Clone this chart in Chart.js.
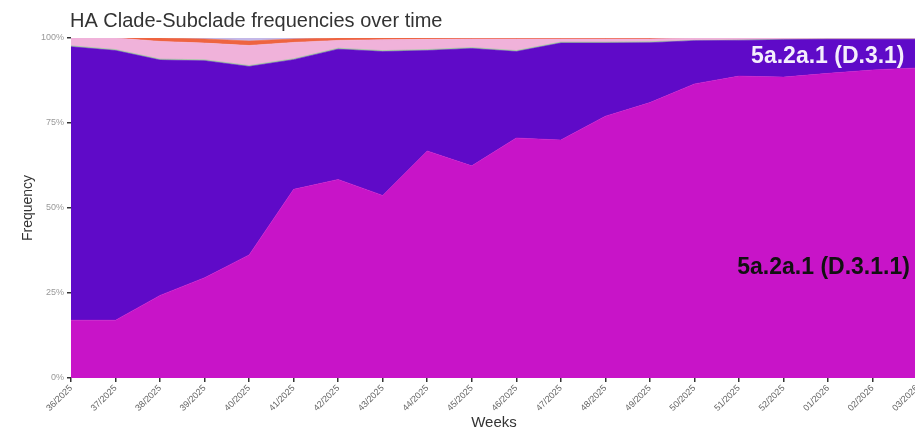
<!DOCTYPE html>
<html>
<head>
<meta charset="utf-8">
<script src="https://cdn.jsdelivr.net/npm/chart.js@4.4.1/dist/chart.umd.min.js"></script>
<style>
  html, body { margin: 0; padding: 0; background: #fff; overflow: hidden; }
  #wrap { position: absolute; left: 0; top: 0; width: 935px; height: 429px; }
</style>
</head>
<body>
<div id="wrap"><canvas id="myChart"></canvas></div>
<script>
// weeks on the x axis
const weeks = ['36/2025','37/2025','38/2025','39/2025','40/2025','41/2025','42/2025','43/2025','44/2025',
  '45/2025','46/2025','47/2025','48/2025','49/2025','50/2025','51/2025','52/2025','01/2026','02/2026','03/2026']

// frequency (%) per clade, stacked bottom -> top
const d311   = [17.0, 17.0, 24.3, 29.5, 36.2, 55.5, 58.4, 53.7, 66.8, 62.4, 70.6, 70.0, 77.0, 81.0, 86.5, 88.8, 88.5, 89.6, 90.6, 91.2]
const d31    = [80.4, 79.3, 69.2, 63.8, 55.4, 38.1, 38.3, 42.3, 29.5, 34.5, 25.4, 28.5, 21.5, 17.6, 12.7, 10.5, 11.0, 10.0,  9.0,  8.4]
const other1 = [ 0.3,  0.3,  0.3,  0.3,  0.3,  0.3,  0.3,  0.3,  0.3,  0.3,  0.3,  0.3,  0.3,  0.3,  0.1,  0.1,  0.1,  0.1,  0.1,  0.1]
const other2 = [ 2.3,  3.4,  5.2,  4.9,  5.9,  4.8,  2.3,  3.2,  3.0,  2.5,  3.4,  0.9,  0.9,  0.8,  0.7,  0.6,  0.4,  0.3,  0.3,  0.3]
const other3 = [ 0.0,  0.0,  1.0,  1.2,  1.3,  1.0,  0.7,  0.5,  0.4,  0.3,  0.3,  0.3,  0.3,  0.3,  0.0,  0.0,  0.0,  0.0,  0.0,  0.0]
const other4 = [ 0.0,  0.0,  0.0,  0.3,  0.9,  0.3,  0.0,  0.0,  0.0,  0.0,  0.0,  0.0,  0.0,  0.0,  0.0,  0.0,  0.0,  0.0,  0.0,  0.0]

const yTicks = [0, 25, 50, 75, 100]

function area(label, data, color, fill){
  return {
    label: label,
    data: data,
    backgroundColor: color,
    borderColor: color,
    borderWidth: 0.6,
    pointRadius: 0,
    tension: 0,
    fill: fill
  }
}

// title + in-chart labels
const textPlugin = {
  id: 'texts',
  afterDatasetsDraw(chart){
    const ctx = chart.ctx
    const x = chart.scales.x, y = chart.scales.y
    ctx.save()
    ctx.fillStyle = '#333'
    ctx.font = '20px "Liberation Sans", Arial, sans-serif'
    ctx.textAlign = 'left'
    ctx.textBaseline = 'alphabetic'
    ctx.fillText('HA Clade-Subclade frequencies over time', 70, 27)

    ctx.font = 'bold 23px "Liberation Sans", Arial, sans-serif'
    ctx.textAlign = 'right'
    ctx.textBaseline = 'middle'
    ctx.fillStyle = '#f4eefc'
    ctx.fillText('5a.2a.1 (D.3.1)', x.getPixelForValue(18.72), y.getPixelForValue(94.6))
    ctx.fillStyle = '#111'
    ctx.fillText('5a.2a.1 (D.3.1.1)', x.getPixelForValue(18.84), y.getPixelForValue(32.4))
    ctx.restore()
  }
}

new Chart('myChart', {
  type: 'line',
  data: {
    labels: weeks,
    datasets: [
      area('5a.2a.1 (D.3.1.1)', d311, '#c814c8', 'origin'),
      area('5a.2a.1 (D.3.1)', d31, '#5f0ac8', '-1'),
      area('other 1', other1, '#9cbf9c', '-1'),
      area('other 2', other2, '#f0b2da', '-1'),
      area('other 3', other3, '#ee6440', '-1'),
      area('other 4', other4, '#c4b8e8', '-1')
    ]
  },
  plugins: [textPlugin],
  options: {
    responsive: true,
    maintainAspectRatio: false,
    animation: false,
    layout: { padding: { top: 38, right: 18, left: 20, bottom: 0 } },
    plugins: {
      legend: { display: false },
      tooltip: { enabled: false }
    },
    scales: {
      x: {
        offset: false,
        afterFit: s => { s.height = 51 },
        grid: { drawOnChartArea: false, drawTicks: true, tickLength: 4, color: '#333', lineWidth: 1.5 },
        border: { display: false },
        ticks: {
          autoSkip: false,
          maxRotation: 45,
          minRotation: 45,
          padding: 1,
          color: '#666',
          font: { size: 9, family: '"Liberation Sans", Arial, sans-serif' }
        },
        title: {
          display: true,
          text: 'Weeks',
          color: '#333',
          padding: { top: 0, bottom: -3 },
          font: { size: 15, family: '"Liberation Sans", Arial, sans-serif' }
        }
      },
      y: {
        stacked: true,
        min: 0,
        max: 100,
        afterFit: s => { s.width = 51 },
        afterBuildTicks: s => { s.ticks = yTicks.map(v => ({ value: v })) },
        grid: { drawOnChartArea: false, drawTicks: true, tickLength: 4, color: '#333', lineWidth: 1.5 },
        border: { display: false },
        ticks: {
          padding: 3,
          color: '#999',
          font: { size: 9, family: '"Liberation Sans", Arial, sans-serif' },
          callback: v => v + '%'
        },
        title: {
          display: true,
          text: 'Frequency',
          color: '#333',
          padding: { top: 0, bottom: 6 },
          font: { size: 14, family: '"Liberation Sans", Arial, sans-serif' }
        }
      }
    }
  }
})
</script>
</body>
</html>
